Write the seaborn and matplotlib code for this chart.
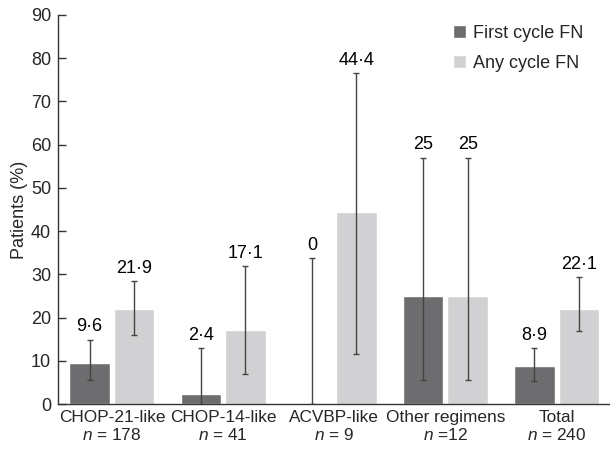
import numpy as np
import pandas as pd
import seaborn as sns
import matplotlib.pyplot as plt

# DATA
regimens = ["CHOP-21-like", "CHOP-14-like", "ACVBP-like", "Other regimens", "Total"]
n_labels = ["= 178", "= 41", "= 9", "=12", "= 240"]
first_cycle = [9.6, 2.4, 0.0, 25.0, 8.9]
first_lo = [5.6, 0.0, 0.0, 5.5, 5.3]
first_hi = [14.9, 13.0, 33.8, 57.0, 12.9]
any_cycle = [21.9, 17.1, 44.4, 25.0, 22.1]
any_lo = [15.9, 7.0, 11.6, 5.5, 16.9]
any_hi = [28.5, 31.9, 76.6, 57.0, 29.3]
series = ["First cycle FN", "Any cycle FN"]

data = pd.DataFrame({
    "regimen": regimens * 2,
    "value": first_cycle + any_cycle,
    "lo": first_lo + any_lo,
    "hi": first_hi + any_hi,
    "series": [series[0]] * 5 + [series[1]] * 5,
})

sns.set_theme(style="white")
plt.rcParams["font.family"] = ["Liberation Sans", "DejaVu Sans"]
plt.rcParams["mathtext.fontset"] = "custom"
plt.rcParams["mathtext.it"] = "Liberation Sans:italic"
plt.rcParams["mathtext.rm"] = "Liberation Sans"

FS = 13

fig = plt.figure(figsize=(6.1, 4.51), dpi=100)
ax = fig.add_axes([0.095, 0.104, 0.905, 0.863])

sns.barplot(data=data, x="regimen", y="value", hue="series",
            hue_order=series, order=regimens,
            palette=["#6d6d70", "#d1d1d3"], width=0.8, gap=0.09,
            errorbar=None, saturation=1, ax=ax)

# error bars + value labels on top of each bar
for cont, name in zip(ax.containers, series):
    sub = data[data["series"] == name].set_index("regimen").loc[regimens]
    for bar, (_, row) in zip(cont, sub.iterrows()):
        xc = bar.get_x() + bar.get_width() / 2
        ax.errorbar(xc, row["value"],
                    yerr=[[row["value"] - row["lo"]], [row["hi"] - row["value"]]],
                    fmt="none", ecolor="#444444", elinewidth=1,
                    capsize=2, capthick=1)
        ax.text(xc, row["hi"] + 1.0, f"{row['value']:g}".replace(".", "\u00b7"),
                ha="center", va="bottom", fontsize=FS, color="black")

ax.set_ylim(0, 90)
ax.set_xlim(-0.485, 4.48)
ax.set_yticks(range(0, 91, 10))
ax.set_xticks(range(len(regimens)))
ax.set_xticklabels([f"{r}\n$n$ {n}" for r, n in zip(regimens, n_labels)],
                   fontsize=12.4)
ax.tick_params(axis="y", direction="in", length=6, width=1, labelsize=FS,
               left=True, color="#333333", pad=5)
ax.tick_params(axis="x", length=0, pad=4)
ax.set_xlabel("")
ax.set_ylabel("Patients (%)", fontsize=FS, labelpad=2)

sns.despine(ax=ax)
for s in ["left", "bottom"]:
    ax.spines[s].set_color("#333333")
    ax.spines[s].set_linewidth(1)

leg = ax.legend(loc="upper left", bbox_to_anchor=(0.716, 0.975), frameon=False,
                fontsize=FS, handlelength=0.72, handleheight=0.72,
                handletextpad=0.4, labelspacing=0.75, borderpad=0,
                borderaxespad=0)

fig.savefig("out.png", dpi=100)
